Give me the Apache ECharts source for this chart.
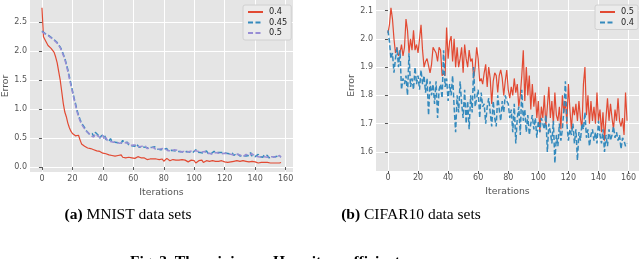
<!DOCTYPE html>
<html><head><meta charset="utf-8">
<script src="https://cdn.jsdelivr.net/npm/echarts@6/dist/echarts.min.js"></script>
<style>html,body{margin:0;padding:0;background:#fff}#c{width:640px;height:259px}</style>
</head><body><div id="c"></div>
<script>
// ---- MNIST (left panel) ----
const mnist_04 = [2.75,2.25,2.2,2.18,2.1,2.08,2.05,2.04,1.98,1.9,1.8,1.65,1.5,1.3,1.1,0.95,0.87,0.76,0.68,0.62,0.58,0.56,0.54,0.52,0.55,0.47,0.4,0.38,0.36,0.35,0.33,0.33,0.32,0.31,0.3,0.31,0.28,0.29,0.27,0.25,0.24,0.24,0.23,0.22,0.21,0.23,0.2,0.21,0.19,0.22,0.2,0.18,0.21,0.17,0.15,0.16,0.18,0.17,0.15,0.16,0.17,0.15,0.16,0.18,0.15,0.16,0.14,0.16,0.15,0.13,0.15,0.14,0.16,0.14,0.13,0.14,0.15,0.13,0.12,0.14,0.1,0.12,0.15,0.12,0.11,0.12,0.13,0.11,0.12,0.1,0.12,0.11,0.13,0.1,0.12,0.11,0.09,0.11,0.12,0.1,0.11,0.07,0.1,0.11,0.09,0.12,0.08,0.1,0.11,0.09,0.1,0.08,0.11,0.09,0.1,0.08,0.1,0.09,0.11,0.08,0.09,0.1,0.08,0.1,0.09,0.07,0.1,0.09,0.11,0.08,0.1,0.09,0.11,0.09,0.1,0.08,0.09,0.08,0.1,0.08,0.09,0.08,0.07,0.09,0.08,0.09,0.08,0.07,0.08,0.09,0.07,0.08,0.07,0.06,0.07,0.06,0.07,0.08];
const mnist_045 = [2.35,2.32,2.31,2.29,2.28,2.26,2.24,2.22,2.2,2.17,2.15,2.12,2.07,2.02,1.95,1.88,1.78,1.68,1.56,1.44,1.32,1.2,1.1,0.98,0.9,0.82,0.76,0.72,0.68,0.63,0.6,0.57,0.55,0.58,0.53,0.6,0.63,0.55,0.5,0.54,0.52,0.56,0.48,0.5,0.45,0.49,0.44,0.46,0.43,0.45,0.42,0.44,0.41,0.46,0.42,0.4,0.43,0.38,0.4,0.37,0.39,0.36,0.4,0.37,0.34,0.37,0.35,0.38,0.34,0.36,0.33,0.35,0.34,0.32,0.35,0.33,0.31,0.33,0.3,0.32,0.31,0.29,0.32,0.28,0.3,0.29,0.31,0.28,0.3,0.27,0.29,0.27,0.3,0.26,0.28,0.27,0.29,0.26,0.28,0.25,0.27,0.3,0.26,0.28,0.25,0.27,0.24,0.26,0.28,0.24,0.26,0.23,0.25,0.27,0.24,0.25,0.22,0.25,0.23,0.25,0.22,0.24,0.21,0.23,0.22,0.24,0.2,0.22,0.24,0.21,0.19,0.22,0.2,0.23,0.19,0.21,0.2,0.25,0.19,0.21,0.18,0.2,0.22,0.18,0.2,0.17,0.21,0.18,0.2,0.16,0.19,0.17,0.2,0.18,0.16,0.19,0.21,0.18];
const mnist_05 = [2.34,2.33,2.3,2.3,2.27,2.25,2.23,2.21,2.19,2.16,2.14,2.1,2.06,2.0,1.93,1.86,1.76,1.65,1.53,1.41,1.3,1.18,1.07,0.96,0.87,0.8,0.74,0.7,0.66,0.62,0.6,0.58,0.54,0.56,0.52,0.57,0.6,0.53,0.52,0.5,0.55,0.47,0.51,0.46,0.48,0.44,0.47,0.43,0.46,0.43,0.44,0.41,0.44,0.42,0.4,0.42,0.39,0.41,0.37,0.39,0.38,0.35,0.38,0.36,0.35,0.33,0.36,0.34,0.36,0.32,0.34,0.33,0.31,0.34,0.32,0.3,0.33,0.31,0.3,0.32,0.29,0.31,0.3,0.28,0.31,0.28,0.29,0.3,0.27,0.29,0.28,0.26,0.29,0.27,0.29,0.26,0.28,0.27,0.25,0.28,0.26,0.28,0.25,0.27,0.24,0.26,0.25,0.27,0.23,0.25,0.24,0.26,0.22,0.24,0.25,0.23,0.24,0.21,0.23,0.22,0.24,0.21,0.23,0.2,0.22,0.23,0.21,0.2,0.22,0.19,0.21,0.2,0.18,0.21,0.22,0.19,0.2,0.18,0.23,0.2,0.19,0.21,0.18,0.2,0.17,0.19,0.18,0.2,0.17,0.19,0.18,0.16,0.18,0.2,0.17,0.18,0.2,0.17];
// ---- CIFAR10 (right panel) ----
const cifar_05 = [2.02,2.05,2.11,2.07,2.0,1.95,1.97,1.94,1.95,1.98,1.94,1.97,2.07,2.03,1.95,2.0,1.96,2.03,1.96,1.98,1.95,2.0,2.05,1.96,1.9,1.92,1.93,1.93,1.88,1.91,1.97,1.96,1.95,1.92,1.97,1.96,1.87,1.88,1.87,2.04,1.93,1.99,2.01,1.92,2.0,1.9,1.97,1.9,1.93,1.97,1.88,1.98,1.93,1.9,1.96,1.92,1.93,1.86,1.9,1.97,1.93,1.85,1.86,1.84,1.88,1.91,1.83,1.9,1.86,1.77,1.85,1.88,1.87,1.81,1.87,1.89,1.86,1.8,1.85,1.89,1.82,1.79,1.83,1.8,1.86,1.81,1.84,1.76,1.8,1.87,1.96,1.78,1.9,1.8,1.87,1.75,1.84,1.76,1.81,1.72,1.78,1.67,1.76,1.72,1.8,1.69,1.76,1.83,1.72,1.78,1.7,1.81,1.73,1.71,1.76,1.68,1.8,1.74,1.78,1.7,1.84,1.75,1.68,1.76,1.73,1.77,1.71,1.78,1.72,1.68,1.84,1.9,1.73,1.8,1.7,1.78,1.71,1.76,1.7,1.81,1.71,1.75,1.67,1.74,1.64,1.72,1.79,1.71,1.77,1.72,1.68,1.75,1.71,1.79,1.71,1.69,1.72,1.66,1.81,1.71];
const cifar_04 = [2.03,1.99,1.93,1.95,1.88,1.93,1.97,1.9,1.96,1.82,1.86,1.84,1.87,1.8,1.95,1.83,1.86,1.82,1.9,1.84,1.87,1.82,1.89,1.84,1.87,1.81,1.86,1.73,1.85,1.8,1.84,1.77,1.85,1.72,1.82,1.84,1.79,1.96,1.83,1.86,1.78,1.84,1.8,1.87,1.76,1.67,1.8,1.74,1.85,1.77,1.72,1.82,1.7,1.78,1.68,1.8,1.74,1.9,1.76,1.79,1.82,1.72,1.81,1.76,1.77,1.7,1.76,1.79,1.74,1.69,1.78,1.72,1.69,1.8,1.75,1.71,1.78,1.74,1.8,1.78,1.77,1.72,1.75,1.67,1.77,1.63,1.72,1.76,1.66,1.82,1.71,1.75,1.67,1.73,1.66,1.7,1.73,1.68,1.72,1.65,1.71,1.67,1.72,1.7,1.68,1.73,1.6,1.7,1.67,1.63,1.71,1.56,1.66,1.62,1.7,1.64,1.68,1.75,1.85,1.7,1.64,1.68,1.66,1.7,1.63,1.68,1.57,1.67,1.64,1.7,1.68,1.74,1.65,1.68,1.62,1.66,1.68,1.64,1.67,1.63,1.71,1.66,1.63,1.68,1.6,1.66,1.62,1.68,1.64,1.66,1.69,1.65,1.67,1.64,1.66,1.61,1.65,1.64,1.62,1.63];
const xTicks = [0,20,40,60,80,100,120,140,160];
const yTicksA = [0.0,0.5,1.0,1.5,2.0,2.5];
const yTicksB = [1.6,1.7,1.8,1.9,2.0,2.1];

const RED='#E24A33', BLUE='#348ABD', PURPLE='#988ED5';
const toXY = a => a.map((v,i)=>[i,v]);
const tickFont = {color:'#555555', fontSize:8, fontFamily:'DejaVu Sans'};
function xAxis(gi,min,max){
  return {type:'value',gridIndex:gi,min:min,max:max,name:'Iterations',nameLocation:'middle',nameGap:15,
    nameTextStyle:{color:'#555555',fontSize:9.3,fontFamily:'DejaVu Sans'},
    axisLine:{show:false},axisTick:{show:true,length:3,lineStyle:{color:'#555555'},customValues:xTicks},
    axisLabel:Object.assign({margin:3,customValues:xTicks},tickFont),
    splitLine:{show:true,lineStyle:{color:'#ffffff',width:1}}};
}
function yAxis(gi,min,max,ticks,gap){
  return {type:'value',gridIndex:gi,min:min,max:max,name:'Error',nameLocation:'middle',nameGap:gap,
    nameTextStyle:{color:'#555555',fontSize:9.3,fontFamily:'DejaVu Sans'},
    axisLine:{show:false},axisTick:{show:true,length:3,lineStyle:{color:'#555555'},customValues:ticks},
    axisLabel:Object.assign({margin:3,customValues:ticks,formatter:v=>v.toFixed(1)},tickFont),
    splitLine:{show:true,lineStyle:{color:'#ffffff',width:1}}};
}
function line(name,data,color,dashed,xi){
  return {type:'line',name:name,xAxisIndex:xi,yAxisIndex:xi,data:toXY(data),symbol:'none',
    lineStyle:{color:color,width:dashed?1.5:1.2,type:dashed?[5,2.5]:'solid'},itemStyle:{color:color},animation:false};
}
const legendBase = {orient:'vertical',itemWidth:15,itemHeight:8,itemGap:2.5,padding:[3,4,3,4],
  backgroundColor:'#ebebeb',borderColor:'#d0d0d0',borderWidth:1,borderRadius:2,
  itemStyle:{opacity:0},
  textStyle:{color:'#222',fontSize:8.2,fontFamily:'DejaVu Sans',padding:[0,0,0,1]},
  formatter:n=>n.trim(),selectedMode:false};

const chart = echarts.init(document.getElementById('c'),null,{renderer:'canvas'});
chart.setOption({
  backgroundColor:'#ffffff',
  animation:false,
  grid:[
    {left:30,top:0,width:263,height:172,backgroundColor:'#e5e5e5',show:true,borderWidth:0},
    {left:376,top:0,width:263,height:171,backgroundColor:'#e5e5e5',show:true,borderWidth:0}
  ],
  xAxis:[xAxis(0,-7.85,164.85),xAxis(1,-7.95,166.95)],
  yAxis:[yAxis(0,-0.085,2.885,yTicksA,19),yAxis(1,1.5325,2.1375,yTicksB,20)],
  legend:[
    Object.assign({},legendBase,{left:243,top:5,data:['0.4','0.45','0.5']}),
    Object.assign({},legendBase,{left:595,top:5,data:['0.5 ','0.4 ']})
  ],
  series:[
    line('0.4',mnist_04,RED,false,0),
    line('0.45',mnist_045,BLUE,true,0),
    line('0.5',mnist_05,PURPLE,true,0),
    line('0.5 ',cifar_05,RED,false,1),
    line('0.4 ',cifar_04,BLUE,true,1)
  ],
  graphic:[
    {type:'text',x:128,y:215,style:{text:'{b|(a)} MNIST data sets',align:'center',verticalAlign:'middle',
      font:'15.5px "Liberation Serif"',fill:'#000',rich:{b:{fontWeight:'bold',fontSize:15.5,fontFamily:'Liberation Serif'}}}},
    {type:'text',x:411,y:215,style:{text:'{b|(b)} CIFAR10 data sets',align:'center',verticalAlign:'middle',
      font:'15.5px "Liberation Serif"',fill:'#000',rich:{b:{fontWeight:'bold',fontSize:15.5,fontFamily:'Liberation Serif'}}}},
    {type:'text',x:268,y:262,style:{text:'Fig. 3. The minimum Hermite coefficients',align:'center',verticalAlign:'middle',
      font:'bold 15.5px "Liberation Serif"',fill:'#000'}}
  ]
});
</script></body></html>
